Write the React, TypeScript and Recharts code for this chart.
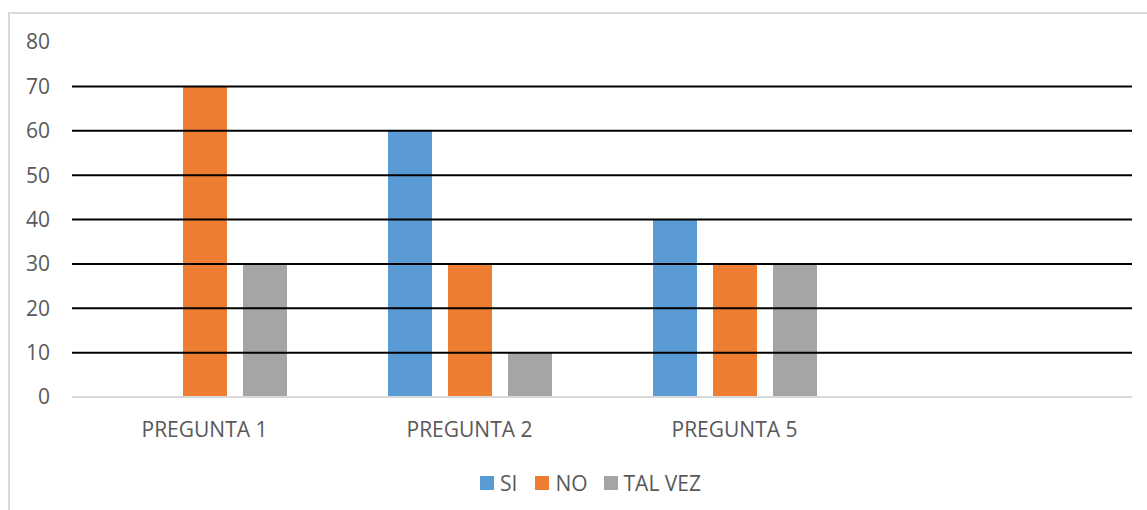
import React from 'react';
import { BarChart, Bar, XAxis, YAxis, ReferenceLine, Legend } from 'recharts';

const categories = ['PREGUNTA 1', 'PREGUNTA 2', 'PREGUNTA 5', ''];
const siValues: (number | null)[] = [0, 60, 40, null];
const noValues: (number | null)[] = [70, 30, 30, null];
const talVezValues: (number | null)[] = [30, 10, 30, null];
const yTicks = [0, 10, 20, 30, 40, 50, 60, 70, 80];
const gridValues = [10, 20, 30, 40, 50, 60, 70];

const seriesNames = ['SI', 'NO', 'TAL VEZ'];
const seriesColors = ['#5B9BD5', '#ED7D31', '#A5A5A5'];

const data = categories.map((c, i) => ({
  name: c,
  SI: siValues[i],
  NO: noValues[i],
  'TAL VEZ': talVezValues[i],
}));

const FONT = '"Open Sans", sans-serif';
const TEXT = '#595959';

const LegendContent = () => (
  <div style={{ display: 'flex', alignItems: 'center', fontFamily: FONT, fontSize: 21, color: TEXT, lineHeight: '28px' }}>
    {seriesNames.map((n, i) => (
      <div key={n} style={{ display: 'flex', alignItems: 'center', marginRight: i === 0 ? 18 : 16 }}>
        <span style={{ display: 'inline-block', width: 14, height: 14, background: seriesColors[i], marginRight: 6 }} />
        <span>{n}</span>
      </div>
    ))}
  </div>
);

export default function App() {
  return (
    <div style={{ position: 'fixed', left: 0, top: 0, width: 1147, height: 510, overflow: 'hidden', background: '#fff' }}>
      <div style={{ position: 'absolute', left: 8, top: 12, width: 1300, height: 700, border: '2px solid #D9D9D9', boxSizing: 'border-box' }} />
      <div style={{ position: 'absolute', left: 0, top: 0 }}>
        <BarChart
          width={1147}
          height={510}
          data={data}
          margin={{ top: 42, right: 15, left: 0, bottom: 83 }}
          barSize={44}
          barGap={16}
        >
          <XAxis
            dataKey="name"
            axisLine={{ stroke: '#D9D9D9', strokeWidth: 2 }}
            tickLine={false}
            tickSize={0}
            tickMargin={25}
            height={30}
            tick={{ fill: TEXT, fontSize: 21, fontFamily: FONT }}
            interval={0}
          />
          <YAxis
            domain={[0, 80]}
            ticks={yTicks}
            axisLine={false}
            tickLine={false}
            tickSize={0}
            tickMargin={22}
            width={72}
            tick={{ fill: TEXT, fontSize: 21, fontFamily: FONT }}
          />
          {seriesNames.map((n, i) => (
            <Bar key={n} dataKey={n} fill={seriesColors[i]} isAnimationActive={false} />
          ))}
          {gridValues.map((v) => (
            <ReferenceLine key={v} y={v} stroke="#000" strokeWidth={2} />
          ))}
          <Legend
            verticalAlign="middle"
            align="center"
            layout="horizontal"
            content={<LegendContent />}
            wrapperStyle={{ top: 469, left: 480, width: 400 }}
          />
        </BarChart>
      </div>
    </div>
  );
}
